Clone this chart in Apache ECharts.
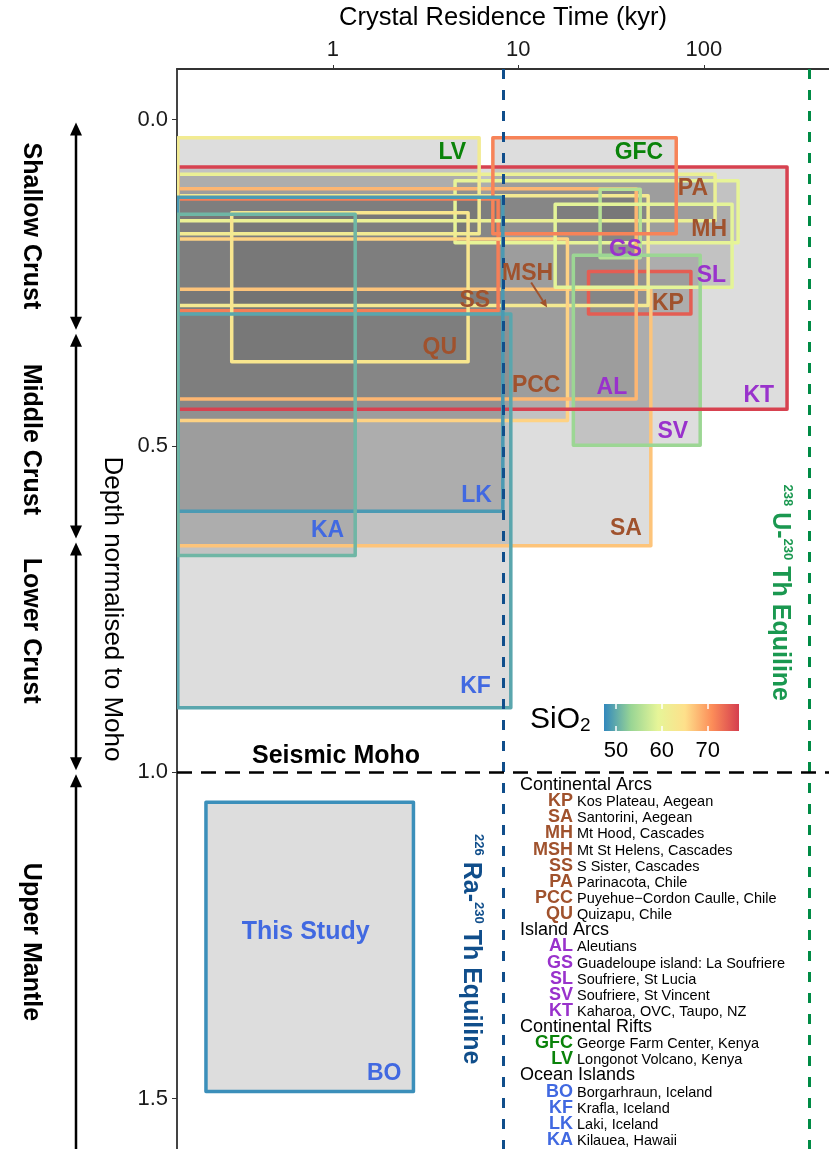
<!DOCTYPE html>
<html><head><meta charset="utf-8">
<script src="https://cdn.jsdelivr.net/npm/echarts@6/dist/echarts.min.js"></script>
<style>html,body{margin:0;padding:0;background:#fff}#c{width:829px;height:1149px}</style>
</head><body><div id="c"></div>
<script>
// ---------------- DATA ----------------
const codes = ['KP','SA','MH','MSH','SS','PA','PCC','QU','AL','GS','SL','SV','KT','GFC','LV','BO','KF','LK','KA'];
const siteNames = ['Kos Plateau, Aegean','Santorini, Aegean','Mt Hood, Cascades','Mt St Helens, Cascades','S Sister, Cascades','Parinacota, Chile','Puyehue\u2212Cordon Caulle, Chile','Quizapu, Chile','Aleutians','Guadeloupe island: La Soufriere','Soufriere, St Lucia','Soufriere, St Vincent','Kaharoa, OVC, Taupo, NZ','George Farm Center, Kenya','Longonot Volcano, Kenya','Borgarhraun, Iceland','Krafla, Iceland','Laki, Iceland','Kilauea, Hawaii'];
const settingNames = ['Continental Arcs','Island Arcs','Continental Rifts','Ocean Islands'];
const settingOf = [0,0,0,0,0,0,0,0,1,1,1,1,1,2,2,3,3,3,3];
// crystal residence time (kyr)
const timeMin = [23.9, 0.146, 4.56, 0.146, 0.146, 0.146, 0.146, 0.285, 0.146, 27.6, 15.8, 19.8, 0.146, 7.29, 0.146, 0.207, 0.146, 0.146, 0.146];
const timeMax = [85.2, 51.8, 153, 50.1, 7.78, 115, 18.4, 5.36, 43.2, 45.4, 142, 95.6, 281, 71.0, 6.15, 2.72, 9.11, 8.25, 1.32];
// depth normalised to Moho
const depthTop = [0.233, 0.260, 0.094, 0.117, 0.122, 0.084, 0.183, 0.143, 0.106, 0.107, 0.130, 0.208, 0.073, 0.028, 0.028, 1.046, 0.298, 0.119, 0.145];
const depthBottom = [0.298, 0.653, 0.189, 0.285, 0.293, 0.155, 0.461, 0.371, 0.428, 0.212, 0.257, 0.499, 0.444, 0.175, 0.175, 1.489, 0.901, 0.600, 0.668];
// SiO2 (wt%)
const sio2 = [74.5, 67, 59.5, 62.5, 72, 60.5, 66, 63.5, 68, 55.4, 59, 53.5, 76.5, 71.7, 62, 47.9, 49.7, 48.8, 50.9];
const xTicks = [1, 10, 100];
const yTicks = [0, 0.5, 1.0, 1.5];
const sio2Ticks = [50, 60, 70];
const RA_TH_EQUILINE = 8.28;
const U_TH_EQUILINE = 370;
const MOHO = 1.0;
const zoneBounds = [0, 0.325, 0.645, 1.0];
const zoneNames = ['Shallow Crust','Middle Crust','Lower Crust','Upper Mantle'];

// ---------------- STYLE / LAYOUT ----------------
const FONT = "'Liberation Sans', Arial, Helvetica, sans-serif";
const X_RANGE = [0.1445, 473];
const Y_RANGE = [-0.0773, 1.577];
const SIO2_RANGE = [47.4, 76.8];
const PALETTE = ['#3288bd','#99d594','#e6f598','#fee08b','#fc8d59','#d53e4f'];
const settingColors = ['#a0522d','#9932cc','#0a830a','#4169e1'];
const BOX_FILL = 'rgba(102,102,102,0.22)';
// [corner, inset from right edge px, inset from edge px (to text centre)]
const labelLayout = { LV:['t',13,15], GFC:['t',13,15], PA:['t',7,14], MH:['b',11,13], GS:['b',-2,8], SL:['b',6,12],
  MSH:['b',95,32], SS:['b',8,10], KP:['b',7,10], QU:['b',11,14], PCC:['b',7,35], AL:['b',9,11], KT:['b',13,14],
  SV:['b',12,14], LK:['b',11,16], SA:['b',9,17], KA:['b',11,25], KF:['b',20,21], BO:['b',12,18] };
const zoneLabelDepth = [0.163, 0.49, 0.783, 1.26];

function hex2rgb(h){return [parseInt(h.slice(1,3),16),parseInt(h.slice(3,5),16),parseInt(h.slice(5,7),16)];}
function colorOf(v){
  let f=(v-SIO2_RANGE[0])/(SIO2_RANGE[1]-SIO2_RANGE[0]); f=Math.max(0,Math.min(1,f));
  const s=f*(PALETTE.length-1); const i=Math.min(Math.floor(s),PALETTE.length-2); const r=s-i;
  const a=hex2rgb(PALETTE[i]), b=hex2rgb(PALETTE[i+1]);
  return 'rgb('+a.map((x,k)=>Math.round(x+(b[k]-x)*r)).join(',')+')';
}

const boxData = codes.map((c,i)=>[timeMin[i], timeMax[i], depthTop[i], depthBottom[i], sio2[i]]);

const chart = echarts.init(document.getElementById('c'), null, {renderer:'canvas'});
const tickLine = {show:true, inside:true, length:5, customValues:sio2Ticks, lineStyle:{color:'#fff', width:1.5}};

function boxRenderer(mode){
  return function(params, api){
    const p0=api.coord([api.value(0), api.value(2)]);
    const p1=api.coord([api.value(1), api.value(3)]);
    const style = mode==='fill' ? {fill:BOX_FILL, stroke:null}
      : {fill:null, stroke:colorOf(api.value(4)), lineWidth:3.5, lineJoin:'round'};
    return {type:'rect', shape:{x:p0[0], y:p0[1], width:p1[0]-p0[0], height:p1[1]-p0[1]}, style:style};
  };
}

const option = {
  animation:false,
  backgroundColor:'#fff',
  textStyle:{fontFamily:FONT},
  grid:[{left:177, top:68, right:0, bottom:0}, {left:604, top:704, width:135, height:27}],
  xAxis:[
    {type:'log', logBase:10, gridIndex:0, position:'top', min:X_RANGE[0], max:X_RANGE[1],
     name:'Crystal Residence Time (kyr)', nameLocation:'middle', nameGap:38,
     nameTextStyle:{fontSize:25.5, color:'#000', fontFamily:FONT},
     axisLine:{show:true, onZero:false, lineStyle:{color:'#333', width:2}},
     axisTick:{show:true, customValues:xTicks, length:4, lineStyle:{color:'#333', width:1}},
     axisLabel:{customValues:xTicks, fontSize:22, color:'#1a1a1a', margin:8, fontFamily:FONT},
     splitLine:{show:false}, minorTick:{show:false}},
    {type:'value', gridIndex:1, position:'bottom', min:SIO2_RANGE[0], max:SIO2_RANGE[1], z:10,
     axisLine:{show:false, onZero:false}, axisTick:tickLine,
     axisLabel:{customValues:sio2Ticks, fontSize:22, color:'#000', margin:9, fontFamily:FONT}, splitLine:{show:false}},
    {type:'value', gridIndex:1, position:'top', min:SIO2_RANGE[0], max:SIO2_RANGE[1], z:10,
     axisLine:{show:false, onZero:false}, axisTick:tickLine, axisLabel:{show:false}, splitLine:{show:false}}
  ],
  yAxis:[
    {type:'value', gridIndex:0, inverse:true, min:Y_RANGE[0], max:Y_RANGE[1],
     name:'Depth normalised to Moho', nameLocation:'middle', nameRotate:-90, nameGap:52,
     nameTextStyle:{fontSize:26, color:'#000', fontFamily:FONT},
     axisLine:{show:true, onZero:false, lineStyle:{color:'#444', width:2}},
     axisTick:{show:true, customValues:yTicks, length:5, lineStyle:{color:'#333', width:1}},
     axisLabel:{customValues:yTicks, formatter:v=>Number(v).toFixed(1), fontSize:22, color:'#1a1a1a', margin:9, fontFamily:FONT},
     splitLine:{show:false}},
    {type:'value', gridIndex:1, min:0, max:1, show:false}
  ],
  series:[
    {type:'line', xAxisIndex:0, yAxisIndex:0, data:[], silent:true,
     markLine:{symbol:['none','none'], silent:true, label:{show:false}, animation:false,
       data:[
         {xAxis:RA_TH_EQUILINE, lineStyle:{color:'#104e8b', width:3, type:[10,11]}},
         {xAxis:U_TH_EQUILINE, lineStyle:{color:'#008b45', width:3, type:[10,11]}},
         {yAxis:MOHO, lineStyle:{color:'#000', width:2.5, type:[15,9]}}
       ]}},
    {type:'custom', xAxisIndex:0, yAxisIndex:0, clip:true, silent:true, data:boxData,
     encode:{x:[0,1], y:[2,3]}, renderItem:boxRenderer('fill')},
    {type:'custom', xAxisIndex:0, yAxisIndex:0, clip:true, silent:true, data:boxData,
     encode:{x:[0,1], y:[2,3]}, renderItem:boxRenderer('stroke')},
    {type:'custom', xAxisIndex:0, yAxisIndex:0, silent:true, data:boxData, z:5,
     encode:{x:[0,1], y:[2,3]},
     renderItem:function(params, api){
       const i=params.dataIndex, c=codes[i];
       const p0=api.coord([api.value(0), api.value(2)]);
       const p1=api.coord([api.value(1), api.value(3)]);
       const L=labelLayout[c];
       const x=p1[0]-L[1], y=(L[0]==='t') ? p0[1]+L[2] : p1[1]-L[2];
       const col=settingColors[settingOf[i]];
       const children=[{type:'text', x:x, y:y, style:{text:c, fill:col, fontSize:23, fontWeight:'bold', fontFamily:FONT, align:'right', verticalAlign:'middle'}}];
       if(c==='MSH'){
         const x1=x-22, y1=y+9, x2=x-6, y2=y+34;
         const ang=Math.atan2(y2-y1,x2-x1), hl=8, hw=3.5;
         const bx=x2-hl*Math.cos(ang), by=y2-hl*Math.sin(ang);
         children.push({type:'line', shape:{x1:x1,y1:y1,x2:bx,y2:by}, style:{stroke:col, lineWidth:2}});
         children.push({type:'polygon', shape:{points:[[x2,y2],[bx-hw*Math.sin(ang),by+hw*Math.cos(ang)],[bx+hw*Math.sin(ang),by-hw*Math.cos(ang)]]}, style:{fill:col}});
       }
       if(c==='BO'){
         children.push({type:'text', x:(p0[0]+p1[0])/2-4, y:(p0[1]+p1[1])/2-15,
           style:{text:'This Study', fill:col, fontSize:25, fontWeight:'bold', fontFamily:FONT, align:'center', verticalAlign:'middle'}});
       }
       return {type:'group', children:children};
     }},
    {type:'custom', xAxisIndex:1, yAxisIndex:1, silent:true, data:[[SIO2_RANGE[0], SIO2_RANGE[1]]],
     renderItem:function(params, api){
       const p0=api.coord([api.value(0), 1]);
       const p1=api.coord([api.value(1), 0]);
       const stops=PALETTE.map((c,k)=>({offset:k/(PALETTE.length-1), color:c}));
       return {type:'rect', shape:{x:p0[0], y:p0[1], width:p1[0]-p0[0], height:p1[1]-p0[1]},
         style:{fill:new echarts.graphic.LinearGradient(0,0,1,0,stops)}};
     }}
  ]
};
chart.setOption(option);

// ---------------- ANNOTATIONS ----------------
const P=(t,d)=>chart.convertToPixel({gridIndex:0},[t,d]);
const G=[];
function arrowHead(x,yTip,dir){ // dir -1 points up, +1 points down
  const hl=13, hw=6;
  return {type:'polygon', shape:{points:[[x,yTip],[x-hw,yTip-dir*hl],[x+hw,yTip-dir*hl]]}, style:{fill:'#000'}};
}
const AX=76;
for(let k=0;k<zoneBounds.length;k++){
  const yA=P(1,zoneBounds[k])[1]+(k===0?3:2);
  const yB=(k<zoneBounds.length-1)? P(1,zoneBounds[k+1])[1]-2 : 1160;
  G.push({type:'line', shape:{x1:AX,y1:yA+6,x2:AX,y2:(k<zoneBounds.length-1)?yB-6:yB}, style:{stroke:'#000', lineWidth:2.5}});
  G.push(arrowHead(AX,yA,-1));
  if(k<zoneBounds.length-1) G.push(arrowHead(AX,yB,1));
}
zoneNames.forEach((n,k)=>{
  G.push({type:'text', x:31, y:P(1,zoneLabelDepth[k])[1], rotation:-Math.PI/2,
    style:{text:n, fill:'#000', fontSize:25, fontWeight:'bold', fontFamily:FONT, align:'center', verticalAlign:'middle'}});
});
const mo=P(1.04,MOHO);
G.push({type:'text', x:mo[0], y:mo[1]-16, style:{text:'Seismic Moho', fill:'#000', fontSize:25, fontWeight:'bold', fontFamily:FONT, align:'center', verticalAlign:'middle'}});

function equiline(t, d, sup1, el, col, dx){
  const p=P(t,d);
  const s={fontSize:13, fontWeight:'bold', fontFamily:FONT, fill:col, color:col, verticalAlign:'top', padding:[0,6,0,0]};
  const b={fontSize:25, fontWeight:'bold', fontFamily:FONT, fill:col, color:col, lineHeight:28};
  G.push({type:'text', x:p[0]+dx, y:p[1], rotation:-Math.PI/2,
    style:{text:'{s|'+sup1+'}{b|'+el+'-}{s|230}{b|Th Equiline}', rich:{s:s,b:b}, align:'center', verticalAlign:'middle'}});
}
equiline(RA_TH_EQUILINE, 1.271, '226', 'Ra', '#104e8b', -32);
equiline(U_TH_EQUILINE, 0.725, '238', 'U', '#1a9850', -29);

G.push({type:'text', x:530, y:720, style:{text:'{a|SiO}{s|2}', rich:{a:{fontSize:30, fontFamily:FONT, fill:'#000'}, s:{fontSize:19, fontFamily:FONT, fill:'#000', verticalAlign:'bottom'}}, align:'left', verticalAlign:'middle'}});

// legend
const LG={x0:520, xr:573, xd:577, y0:785, dy:16.14};
let row=0;
settingNames.forEach((sn,g)=>{
  G.push({type:'text', x:LG.x0, y:LG.y0+row*LG.dy, style:{text:sn, fill:'#000', fontSize:18, fontFamily:FONT, align:'left', verticalAlign:'middle'}});
  row++;
  codes.forEach((c,i)=>{
    if(settingOf[i]!==g) return;
    const y=LG.y0+row*LG.dy;
    G.push({type:'text', x:LG.xr, y:y, style:{text:c, fill:settingColors[g], fontSize:18, fontWeight:'bold', fontFamily:FONT, align:'right', verticalAlign:'middle'}});
    G.push({type:'text', x:LG.xd, y:y+1, style:{text:siteNames[i], fill:'#000', fontSize:14.5, fontFamily:FONT, align:'left', verticalAlign:'middle'}});
    row++;
  });
});
chart.setOption({graphic:G});
</script></body></html>
